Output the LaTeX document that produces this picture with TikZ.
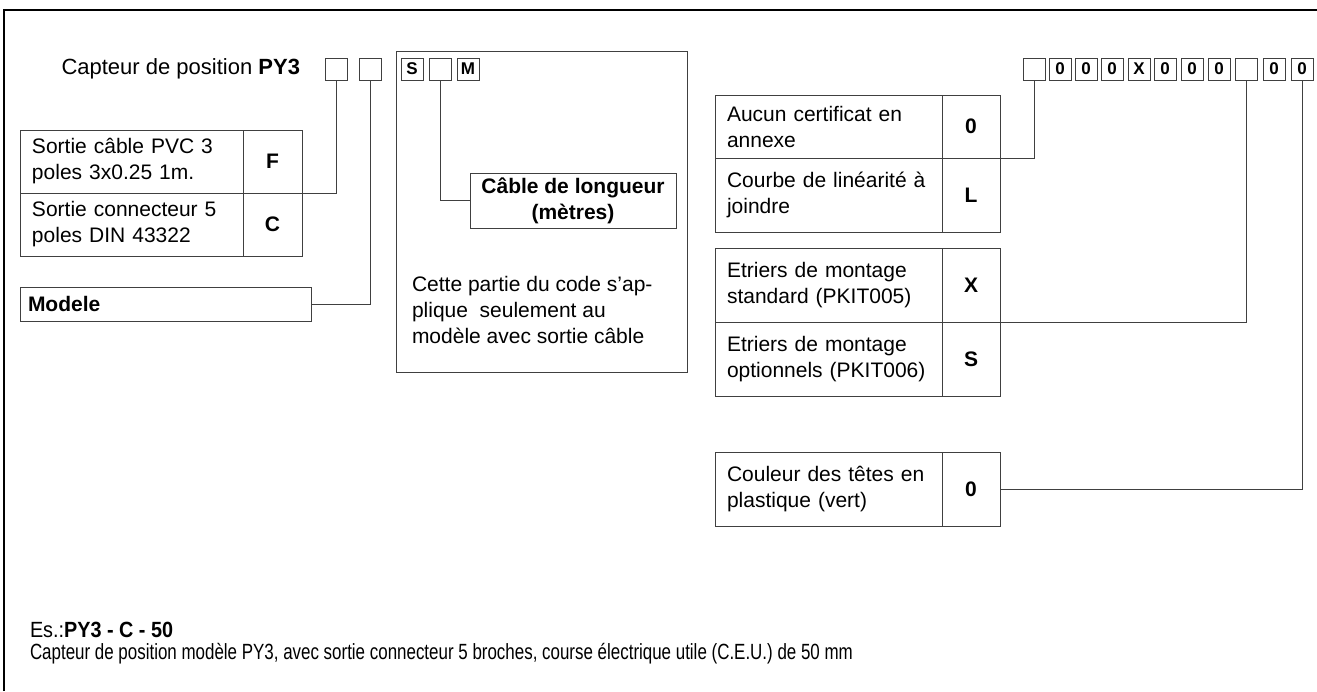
\documentclass[tikz,border=0pt]{standalone}
\usepackage{fontspec}
\setmainfont{Liberation Sans}
\usetikzlibrary{positioning}

\begin{document}
\begin{tikzpicture}[
		x=0.5pt,
		y=-0.5pt,
		color=black!75,
		line width=0.5pt,
		every node/.style={
			font=\fontsize{10.5}{13}\selectfont,
			text=black,
			inner sep=0pt,
			outer sep=0pt,
		},
		cell/.style={
			draw,
			anchor=north west,
			align=left,
			text width=#1,
			inner xsep=6pt,
			minimum height=31.5pt,
		},
		cell/.default=99.5pt,
		code/.style={
			draw,
			font=\fontsize{10.5}{13}\selectfont\bfseries,
			minimum width=29.5pt,
			minimum height=31.5pt,
		},
		tall/.style={
			minimum height=37pt,
		},
		slot/.style={
			draw,
			minimum size=11pt,
			font=\fontsize{8.5}{9}\selectfont\bfseries,
		},
	]
		\useasboundingbox (0,0) rectangle (1317,691);
		\draw[black, line width=0.8pt] (4,691) -- (4,10) -- (1317,10);

		\node[anchor=east, font=\fontsize{11}{13}\selectfont] (title) at (300,69) {Capteur de position \textbf{PY3}};
		\node[slot] (sa) at (336,69) {};
		\node[slot] (sb) at (370,69) {};
		\node[slot] (ss) at (412,69) {S};
		\node[slot] (sl) at (440,69) {};
		\node[slot] (sm) at (468,69) {M};
		\foreach \x/\t [count=\i] in {1034/{},1060/0,1086/0,1112/0,1139/X,1165/0,1192/0,1219/0,1246/{},1274/0,1302/0}
			\node[slot] (r\i) at (\x,69) {\t};

		\node[cell] (lf) at (20,130) {Sortie câble PVC 3\\poles 3x0.25 1m.};
		\node[code, right=0pt of lf] (cf) {F};
		\node[cell, below=0pt of lf] (lc) {Sortie connecteur 5\\poles DIN 43322};
		\node[code, right=0pt of lc] (cc) {C};
		\node[cell=137.5pt, inner xsep=4pt, minimum height=17pt] (mod) at (20,287) {\textbf{Modele}};

		\draw (396,51) rectangle (687,372);
		\node[draw, anchor=north west, align=center, font=\fontsize{10.5}{13}\selectfont\bfseries,
			minimum width=103pt, minimum height=27.5pt] (cab) at (470,173) {Câble de longueur\\(mètres)};
		\node[anchor=north west, align=left] (note) at (412,276) {Cette partie du code s’ap-\\plique\ \ seulement au\\modèle avec sortie câble};

		\node[cell=101.5pt] (la) at (715,95) {Aucun certificat en\\annexe};
		\node[code, minimum width=29pt, right=0pt of la] (ca) {0};
		\node[cell=101.5pt, tall, below=0pt of la] (ll) {Courbe de linéarité à\\joindre};
		\node[code, minimum width=29pt, tall, right=0pt of ll] (cl) {L};
		\node[cell=101.5pt, tall] (lx) at (715,248) {Etriers de montage\\standard (PKIT005)};
		\node[code, minimum width=29pt, tall, right=0pt of lx] (cx) {X};
		\node[cell=101.5pt, tall, below=0pt of lx] (ls) {Etriers de montage\\optionnels (PKIT006)};
		\node[code, minimum width=29pt, tall, right=0pt of ls] (cs) {S};
		\node[cell=101.5pt, tall] (lk) at (715,452) {Couleur des têtes en\\plastique (vert)};
		\node[code, minimum width=29pt, tall, right=0pt of lk] (ck) {0};

		\draw (sa.south) |- (cf.south east);
		\draw (sb.south) |- (mod.east);
		\draw (sl.south) |- (cab.west);
		\draw (r1.south) |- (ca.south east);
		\draw (r9.south) |- (cx.south east);
		\draw (r11.south) |- (ck.east);

		\node[anchor=west, font=\fontsize{11}{13}\selectfont] (ex) at (30,630) {\scalebox{0.9}[1]{Es.:\textbf{PY3 - C - 50}}};
		\node[anchor=west, font=\fontsize{11}{13}\selectfont] (exdesc) at (30,654) {\scalebox{0.77}[1]{Capteur de position modèle PY3, avec sortie connecteur 5 broches, course électrique utile (C.E.U.) de 50 mm}};
	\end{tikzpicture}
\end{document}
